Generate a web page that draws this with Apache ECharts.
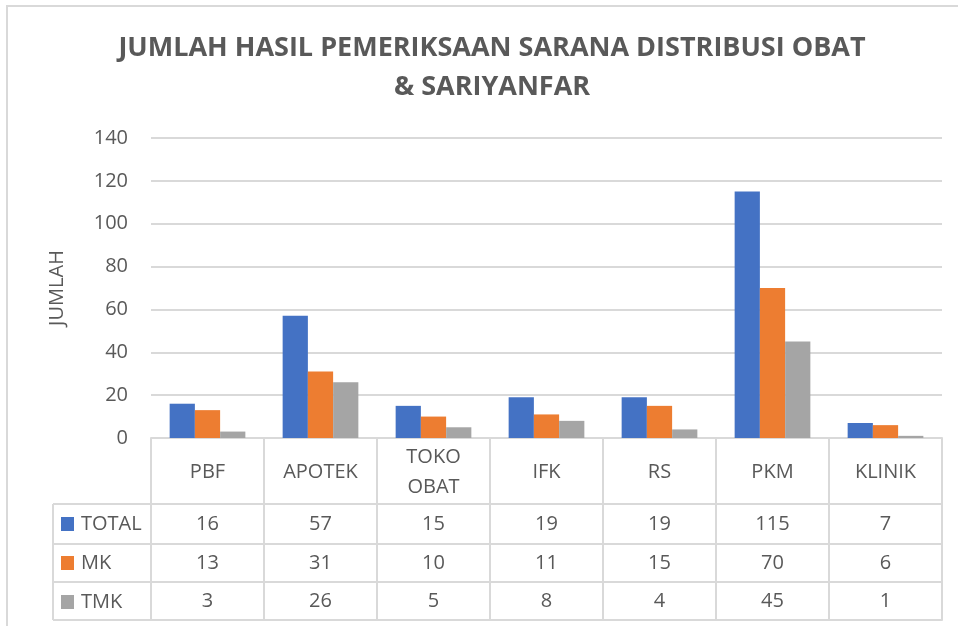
<!DOCTYPE html>
<html>
<head>
<meta charset="utf-8">
<script src="https://cdn.jsdelivr.net/npm/echarts@6/dist/echarts.min.js"></script>
<style>
    html, body { margin: 0; padding: 0; background: #fff; }
    #chart { width: 958px; height: 626px; }
</style>
</head>
<body>
<div id="chart"></div>
<script>
// data
const categories = ['PBF', 'APOTEK', 'TOKO\nOBAT', 'IFK', 'RS', 'PKM', 'KLINIK'];
const totalVals = [16, 57, 15, 19, 19, 115, 7];
const mkVals = [13, 31, 10, 11, 15, 70, 6];
const tmkVals = [3, 26, 5, 8, 4, 45, 1];
const yTicks = { min: 0, max: 140, interval: 20 };

const TXT = '#595959';
const LINE = '#d9d9d9';
const FONT = '"Open Sans", sans-serif';

// layout of plot + data table
const W = 958, H = 626;
const gridLeft = 151, gridRight = 942, gridTop = 138, gridBottom = 438;
const rowLines = [504, 544, 582, 620];   // table horizontal lines under header
const legendLeft = 53;

const chart = echarts.init(document.getElementById('chart'));

function rowAxis(vals, offset, margin) {
    return {
        type: 'category', data: categories, position: 'bottom', offset: offset,
        axisLine: { show: true, lineStyle: { color: LINE, width: 2 } },
        axisTick: { show: false },
        axisLabel: {
            show: vals != null, interval: 0, margin: margin, verticalAlign: 'middle',
            color: TXT, fontSize: 20, fontFamily: FONT,
            formatter: (v, i) => vals ? String(vals[i]) : ''
        }
    };
}

const rowMid = i => (rowLines[i] + rowLines[i + 1]) / 2;

// left column of the data table (legend keys)
const tableLines = rowLines.map(y => ({
    type: 'line', silent: true,
    shape: { x1: legendLeft, y1: y, x2: gridLeft, y2: y },
    style: { stroke: LINE, lineWidth: 2 }
}));
tableLines.push({
    type: 'line', silent: true,
    shape: { x1: legendLeft, y1: rowLines[0], x2: legendLeft, y2: rowLines[3] },
    style: { stroke: LINE, lineWidth: 2 }
});

chart.setOption({
    backgroundColor: '#fff',
    animation: false,
    color: ['#4472C4', '#ED7D31', '#A5A5A5'],
    title: {
        text: 'JUMLAH HASIL PEMERIKSAAN SARANA DISTRIBUSI OBAT\n& SARIYANFAR',
        left: 487, top: 24, textAlign: 'center',
        textStyle: { color: TXT, fontSize: 27, fontWeight: 'bold', fontFamily: FONT, lineHeight: 39 }
    },
    legend: {
        orient: 'vertical', left: 56, top: 509,
        itemWidth: 13, itemHeight: 14, itemGap: 19,
        icon: 'rect',
        textStyle: { color: TXT, fontSize: 20, fontFamily: FONT, lineHeight: 20, padding: [0, 0, 0, 2] },
        data: ['TOTAL', 'MK', 'TMK']
    },
    grid: { left: gridLeft, right: W - gridRight, top: gridTop, bottom: H - gridBottom },
    xAxis: [
        {
            type: 'category', data: categories, position: 'bottom',
            axisLine: { show: true, lineStyle: { color: LINE, width: 2 } },
            axisTick: { show: true, interval: 0, length: rowLines[3] - gridBottom, lineStyle: { color: LINE, width: 2 } },
            axisLabel: {
                interval: 0, margin: 34, verticalAlign: 'middle', lineHeight: 30,
                color: TXT, fontSize: 20, fontFamily: FONT
            }
        },
        rowAxis(totalVals, rowLines[0] - gridBottom, rowMid(0) - rowLines[0]),
        rowAxis(mkVals, rowLines[1] - gridBottom, rowMid(1) - rowLines[1]),
        rowAxis(tmkVals, rowLines[2] - gridBottom, rowMid(2) - rowLines[2]),
        rowAxis(null, rowLines[3] - gridBottom, 0)
    ],
    yAxis: {
        type: 'value', min: yTicks.min, max: yTicks.max, interval: yTicks.interval,
        name: 'JUMLAH', nameLocation: 'middle', nameRotate: 90, nameGap: 84,
        nameTextStyle: { color: TXT, fontSize: 20, fontFamily: FONT },
        axisLine: { show: false }, axisTick: { show: false },
        axisLabel: { color: TXT, fontSize: 20, fontFamily: FONT, margin: 23 },
        splitLine: { lineStyle: { color: LINE, width: 2 } }
    },
    series: [
        { name: 'TOTAL', type: 'bar', data: totalVals, barGap: '0%', barCategoryGap: '33%' },
        { name: 'MK', type: 'bar', data: mkVals },
        { name: 'TMK', type: 'bar', data: tmkVals }
    ],
    graphic: [
        {
            type: 'rect', silent: true, z: -1,
            shape: { x: 7, y: 6, width: W + 10, height: H + 10 },
            style: { fill: 'none', stroke: LINE, lineWidth: 2 }
        }
    ].concat(tableLines)
});
</script>
</body>
</html>
